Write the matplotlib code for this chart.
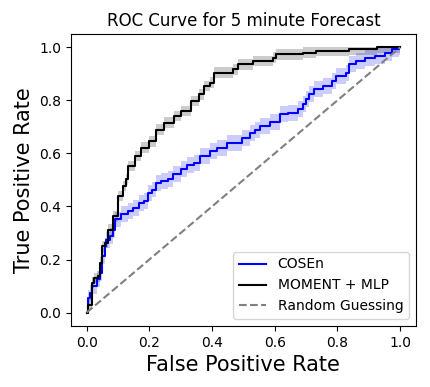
import numpy as np
import matplotlib
matplotlib.use("Agg")
import matplotlib.pyplot as plt

# ROC points (false positive rate, true positive rate)
cosen_fpr = [0.0, 0.003, 0.01, 0.016, 0.032, 0.042, 0.05, 0.058, 0.063, 0.074, 0.084,
             0.089, 0.11, 0.132, 0.147, 0.168, 0.184, 0.195, 0.21, 0.221, 0.237,
             0.258, 0.274, 0.3, 0.321, 0.342, 0.363, 0.395, 0.416, 0.447, 0.479,
             0.495, 0.521, 0.537, 0.553, 0.584, 0.616, 0.642, 0.674, 0.689, 0.7,
             0.71, 0.726, 0.753, 0.784, 0.795, 0.826, 0.837, 0.858, 0.889, 0.921,
             0.953, 0.974, 0.995, 1.0]
cosen_tpr = [0.0, 0.055, 0.074, 0.1, 0.125, 0.15, 0.212, 0.25, 0.275, 0.288, 0.313,
             0.351, 0.37, 0.382, 0.395, 0.414, 0.42, 0.452, 0.464, 0.489, 0.495,
             0.502, 0.521, 0.54, 0.558, 0.565, 0.59, 0.609, 0.622, 0.64, 0.64,
             0.659, 0.678, 0.69, 0.702, 0.72, 0.747, 0.754, 0.766, 0.785, 0.804,
             0.823, 0.842, 0.854, 0.873, 0.892, 0.904, 0.936, 0.948, 0.961, 0.968,
             0.98, 0.992, 1.0, 1.0]

moment_fpr = [0.0, 0.003, 0.016, 0.024, 0.037, 0.042, 0.05, 0.058, 0.068, 0.084,
              0.1, 0.116, 0.126, 0.132, 0.153, 0.174, 0.2, 0.221, 0.247, 0.279,
              0.3, 0.332, 0.358, 0.374, 0.395, 0.405, 0.468, 0.484, 0.531, 0.595,
              0.605, 0.679, 0.689, 0.732, 0.837, 0.926, 1.0]
moment_tpr = [0.0, 0.03, 0.113, 0.13, 0.137, 0.188, 0.25, 0.263, 0.313, 0.363,
              0.439, 0.477, 0.502, 0.552, 0.59, 0.622, 0.646, 0.69, 0.716, 0.741,
              0.76, 0.797, 0.823, 0.854, 0.867, 0.904, 0.917, 0.936, 0.948, 0.961,
              0.974, 0.974, 0.98, 0.986, 0.992, 1.0, 1.0]

# half-width of the shaded bands
cosen_band = 0.03
moment_band = 0.02

fig, ax = plt.subplots(figsize=(4.3, 3.87), dpi=100)
fig.subplots_adjust(left=0.165, right=0.967, bottom=0.158, top=0.912)

x = np.array(cosen_fpr)
y = np.array(cosen_tpr)
ax.fill_between(x, np.clip(y - cosen_band, 0, 1), np.clip(y + cosen_band, 0, 1),
                step='post', color='blue', alpha=0.2, linewidth=0)
ax.plot(x, y, drawstyle='steps-post', color='blue', lw=1.5, label='COSEn')

x = np.array(moment_fpr)
y = np.array(moment_tpr)
ax.fill_between(x, np.clip(y - moment_band, 0, 1), np.clip(y + moment_band, 0, 1),
                step='post', color='black', alpha=0.2, linewidth=0)
ax.plot(x, y, drawstyle='steps-post', color='black', lw=1.5, label='MOMENT + MLP')

ax.plot([0, 1], [0, 1], '--', color='gray', lw=1.5, label='Random Guessing')

ax.set_xlabel('False Positive Rate', fontsize=15)
ax.set_ylabel('True Positive Rate', fontsize=15)
ax.set_title('ROC Curve for 5 minute Forecast', fontsize=12)
ax.legend(loc='lower right')

fig.savefig('out.png', dpi=100)
